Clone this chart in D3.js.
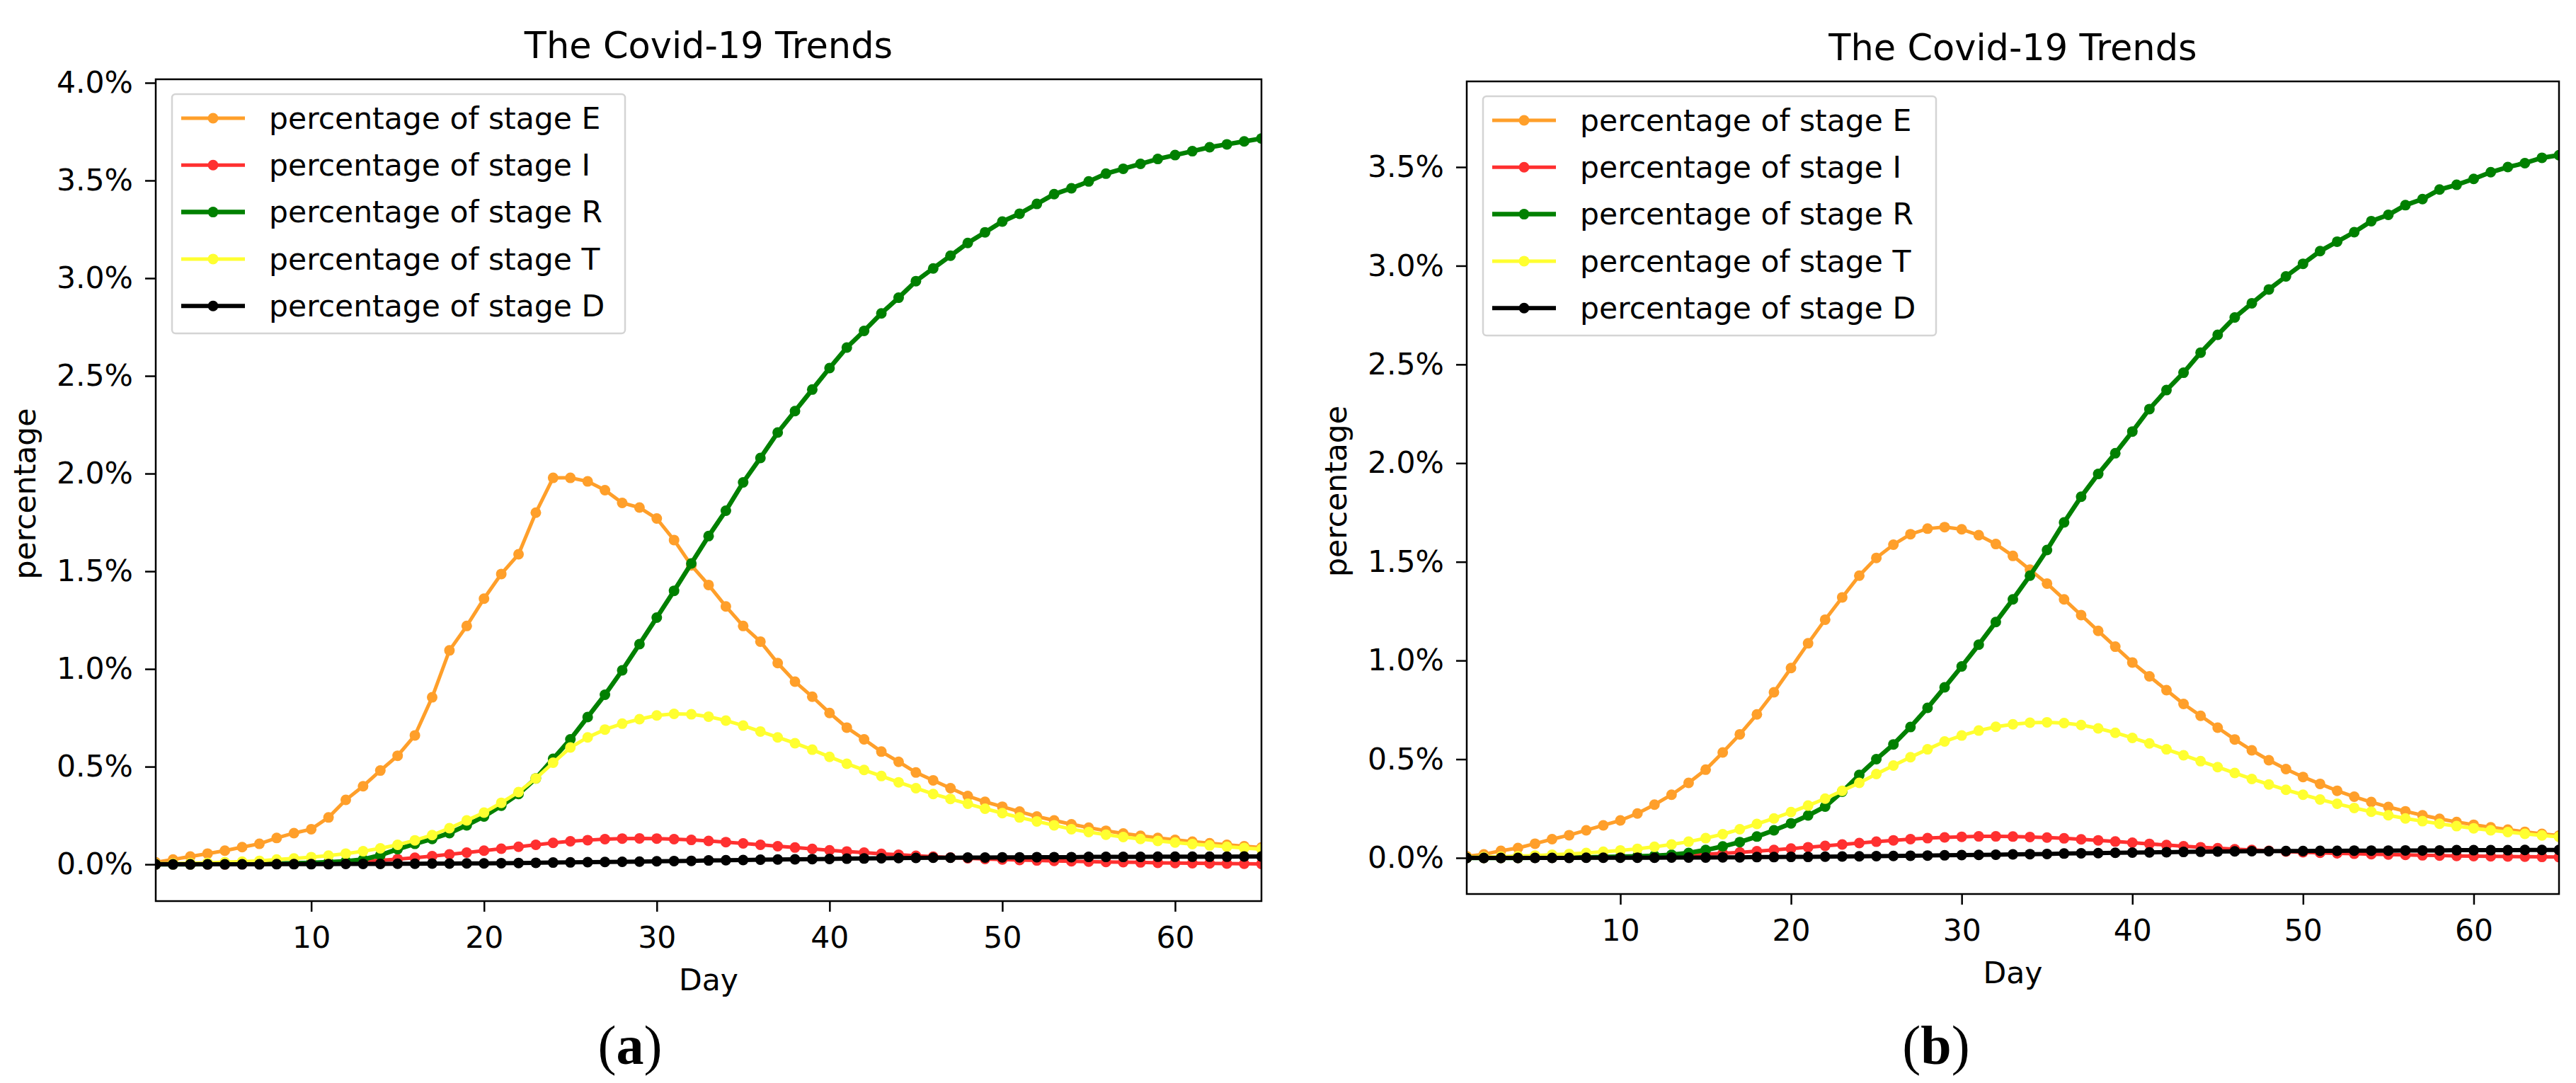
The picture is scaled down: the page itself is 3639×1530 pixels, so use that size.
<!DOCTYPE html>
<html>
<head>
<meta charset="utf-8">
<script src="https://cdn.jsdelivr.net/npm/d3@7"></script>
<style>
  body { margin: 0; background: #fff; }
  text { font-family: "DejaVu Sans", sans-serif; fill: #000; }
</style>
</head>
<body>
<svg id="fig" width="3639" height="1530"></svg>
<script>
var days = [1,2,3,4,5,6,7,8,9,10,11,12,13,14,15,16,17,18,19,20,21,22,23,24,25,26,27,28,29,30,31,32,33,
  34,35,36,37,38,39,40,41,42,43,44,45,46,47,48,49,50,51,52,53,54,55,56,57,58,59,60,61,62,63,64,65]

var stageNames = ['percentage of stage E', 'percentage of stage I', 'percentage of stage R',
  'percentage of stage T', 'percentage of stage D']
var stageColors = ['#ff9f2a', '#ff3030', '#008000', '#ffff30', '#000000']
var stageWidths = [5, 5, 6.5, 5, 6]

var xTicks = [10, 20, 30, 40, 50, 60]
var yTicksA = [0, 0.5, 1, 1.5, 2, 2.5, 3, 3.5, 4]
var yTicksB = [0, 0.5, 1, 1.5, 2, 2.5, 3, 3.5]

// panel (a), values in %
var eA = [0.01,0.025,0.04,0.055,0.07,0.088,0.105,0.135,0.16,0.18,
  0.24,0.33,0.40,0.48,0.556,0.66,0.855,1.095,1.22,1.36,
  1.486,1.587,1.80,1.978,1.978,1.96,1.915,1.85,1.826,1.77,
  1.66,1.53,1.43,1.32,1.22,1.14,1.03,0.935,0.858,0.775,
  0.70,0.64,0.577,0.525,0.47,0.43,0.39,0.35,0.32,0.295,
  0.27,0.245,0.225,0.205,0.188,0.172,0.158,0.146,0.135,0.125,
  0.116,0.108,0.10,0.093,0.086]
var iA = [0,0,0,0,0,0.001,0.002,0.003,0.004,0.006,
  0.008,0.011,0.015,0.02,0.027,0.034,0.042,0.051,0.06,0.07,
  0.08,0.09,0.10,0.11,0.118,0.124,0.129,0.132,0.133,0.132,
  0.129,0.125,0.12,0.114,0.107,0.10,0.093,0.086,0.079,0.072,
  0.066,0.06,0.054,0.049,0.044,0.039,0.035,0.031,0.028,0.025,
  0.022,0.02,0.018,0.016,0.014,0.012,0.011,0.01,0.008,0.007,
  0.006,0.005,0.004,0.003,0.002]
var rA = [0,0,0,0.001,0.001,0.002,0.003,0.004,0.006,0.008,
  0.011,0.016,0.025,0.047,0.078,0.105,0.13,0.16,0.20,0.245,
  0.30,0.36,0.44,0.54,0.64,0.754,0.868,0.993,1.127,1.263,
  1.40,1.54,1.68,1.81,1.955,2.08,2.21,2.32,2.43,2.54,
  2.645,2.73,2.82,2.90,2.985,3.05,3.115,3.18,3.235,3.29,
  3.33,3.38,3.43,3.46,3.495,3.535,3.56,3.585,3.61,3.63,
  3.65,3.67,3.685,3.70,3.715]
var tA = [0.002,0.004,0.006,0.008,0.011,0.014,0.018,0.025,0.03,0.037,
  0.045,0.055,0.067,0.082,0.10,0.123,0.15,0.185,0.225,0.265,
  0.315,0.37,0.44,0.52,0.598,0.65,0.69,0.72,0.743,0.762,
  0.77,0.768,0.756,0.736,0.71,0.68,0.65,0.62,0.587,0.55,
  0.515,0.483,0.452,0.42,0.39,0.36,0.335,0.31,0.285,0.262,
  0.24,0.22,0.20,0.18,0.165,0.152,0.14,0.13,0.12,0.112,
  0.104,0.097,0.09,0.084,0.078]
var dA = [0,0,0,0,0,0,0,0.001,0.001,0.001,
  0.001,0.002,0.002,0.002,0.003,0.003,0.004,0.004,0.005,0.005,
  0.006,0.007,0.008,0.009,0.01,0.011,0.012,0.013,0.014,0.016,
  0.017,0.018,0.02,0.021,0.022,0.024,0.025,0.026,0.027,0.028,
  0.029,0.03,0.031,0.032,0.033,0.034,0.034,0.035,0.035,0.036,
  0.036,0.037,0.037,0.037,0.038,0.038,0.038,0.038,0.039,0.039,
  0.039,0.039,0.039,0.04,0.04]

// panel (b), values in %
var eB = [0.008,0.018,0.036,0.05,0.072,0.095,0.115,0.14,0.165,0.19,
  0.225,0.27,0.32,0.38,0.447,0.534,0.626,0.727,0.839,0.962,
  1.087,1.207,1.32,1.43,1.52,1.587,1.64,1.668,1.676,1.665,
  1.635,1.59,1.53,1.46,1.39,1.31,1.23,1.15,1.07,0.99,
  0.92,0.85,0.78,0.72,0.66,0.60,0.545,0.495,0.45,0.41,
  0.375,0.34,0.31,0.283,0.258,0.236,0.216,0.198,0.182,0.168,
  0.155,0.143,0.132,0.122,0.113]
var iB = [0,0,0,0,0.001,0.001,0.002,0.003,0.004,0.005,
  0.007,0.009,0.012,0.015,0.019,0.023,0.028,0.034,0.04,0.047,
  0.054,0.061,0.068,0.075,0.082,0.089,0.095,0.10,0.104,0.107,
  0.109,0.109,0.108,0.106,0.103,0.099,0.094,0.089,0.083,0.077,
  0.071,0.065,0.059,0.054,0.049,0.044,0.04,0.036,0.032,0.029,
  0.026,0.023,0.021,0.019,0.017,0.015,0.013,0.012,0.01,0.009,
  0.008,0.007,0.006,0.005,0.004]
var rB = [0,0,0,0,0.001,0.001,0.002,0.003,0.004,0.006,
  0.008,0.011,0.016,0.025,0.04,0.058,0.08,0.108,0.14,0.175,
  0.215,0.26,0.335,0.42,0.50,0.575,0.663,0.76,0.864,0.97,
  1.08,1.195,1.31,1.43,1.56,1.70,1.83,1.945,2.05,2.16,
  2.274,2.37,2.458,2.56,2.65,2.738,2.81,2.88,2.946,3.01,
  3.074,3.122,3.17,3.226,3.258,3.307,3.338,3.386,3.41,3.44,
  3.474,3.50,3.52,3.547,3.56]
var tB = [0.002,0.004,0.006,0.009,0.012,0.016,0.02,0.025,0.031,0.038,
  0.046,0.056,0.068,0.082,0.10,0.12,0.145,0.172,0.20,0.232,
  0.265,0.30,0.34,0.38,0.425,0.468,0.51,0.55,0.59,0.62,
  0.645,0.664,0.677,0.685,0.687,0.683,0.673,0.656,0.634,0.608,
  0.58,0.55,0.52,0.49,0.46,0.43,0.40,0.372,0.345,0.32,
  0.296,0.274,0.253,0.234,0.216,0.20,0.186,0.173,0.161,0.15,
  0.14,0.131,0.122,0.114,0.107]
var dB = [0,0,0,0,0,0,0,0.001,0.001,0.001,
  0.001,0.001,0.002,0.002,0.002,0.003,0.003,0.004,0.004,0.005,
  0.005,0.006,0.007,0.008,0.009,0.01,0.011,0.012,0.013,0.014,
  0.015,0.016,0.018,0.019,0.02,0.022,0.023,0.024,0.026,0.027,
  0.028,0.029,0.03,0.031,0.032,0.033,0.034,0.034,0.035,0.035,
  0.036,0.036,0.037,0.037,0.037,0.038,0.038,0.038,0.039,0.039,
  0.039,0.039,0.04,0.04,0.04]

var svg = d3.select('#fig')

function drawPanel(p) {
  var x = d3.scaleLinear().domain([1, 65]).range([p.left, p.right])
  var y = d3.scaleLinear().domain(p.yDomain).range([p.bottom, p.top])
  var g = svg.append('g')

  g.append('clipPath').attr('id', 'clip' + p.id)
    .append('rect')
      .attr('x', p.left).attr('y', p.top)
      .attr('width', p.right - p.left).attr('height', p.bottom - p.top)

  var plot = g.append('g').attr('clip-path', 'url(#clip' + p.id + ')')
  var line = d3.line().x(function(d, i){ return x(days[i]) }).y(function(d){ return y(d) })

  p.series.forEach(function(vals, k){
    plot.append('path')
        .datum(vals)
        .attr('d', line)
        .attr('fill', 'none')
        .attr('stroke', stageColors[k])
        .attr('stroke-width', stageWidths[k])
    plot.selectAll('circle.s' + k)
        .data(vals).enter().append('circle')
        .attr('cx', function(d, i){ return x(days[i]) })
        .attr('cy', function(d){ return y(d) })
        .attr('r', 7.5)
        .attr('fill', stageColors[k])
  })

  var xAxis = g.append('g')
      .attr('transform', 'translate(0,' + p.bottom + ')')
      .call(d3.axisBottom(x).tickValues(xTicks).tickSize(15).tickPadding(21).tickFormat(d3.format('d')))
  var yAxis = g.append('g')
      .attr('transform', 'translate(' + p.left + ',0)')
      .call(d3.axisLeft(y).tickValues(p.yTicks).tickSize(15).tickPadding(17)
        .tickFormat(function(d){ return d.toFixed(1) + '%' }))
  ;[xAxis, yAxis].forEach(function(a){
    a.select('.domain').remove()
    a.selectAll('line').attr('stroke', '#000').attr('stroke-width', 2.5)
    a.selectAll('text').style('font-size', '42.5px').style('font-family', '"DejaVu Sans", sans-serif')
  })

  g.append('rect')
      .attr('x', p.left).attr('y', p.top)
      .attr('width', p.right - p.left).attr('height', p.bottom - p.top)
      .attr('fill', 'none').attr('stroke', '#000').attr('stroke-width', 2.5)

  var cx = (p.left + p.right) / 2
  g.append('text')
      .attr('x', cx).attr('y', p.top - 30)
      .attr('text-anchor', 'middle').style('font-size', '51px')
      .text('The Covid-19 Trends')
  g.append('text')
      .attr('x', cx).attr('y', p.bottom + 126)
      .attr('text-anchor', 'middle').style('font-size', '42.5px')
      .text('Day')
  g.append('text')
      .attr('transform', 'translate(' + (p.left - 170) + ',' + ((p.top + p.bottom) / 2 + 5) + ') rotate(-90)')
      .attr('text-anchor', 'middle').style('font-size', '42.5px')
      .text('percentage')

  // legend
  var lx = p.left + 23, ly = p.top + 21
  var legend = g.append('g').attr('transform', 'translate(' + lx + ',' + ly + ')')
  legend.append('rect')
      .attr('width', 640).attr('height', 338).attr('rx', 5)
      .attr('fill', '#fff').attr('stroke', '#d4d4d4').attr('stroke-width', 2.5)
  var rows = legend.selectAll('g.row').data(stageNames).enter().append('g')
      .attr('transform', function(d, i){ return 'translate(0,' + (34 + i * 66.3) + ')' })
  rows.append('line')
      .attr('x1', 13).attr('x2', 103)
      .attr('stroke', function(d, i){ return stageColors[i] })
      .attr('stroke-width', function(d, i){ return stageWidths[i] })
  rows.append('circle')
      .attr('cx', 58).attr('r', 7.5)
      .attr('fill', function(d, i){ return stageColors[i] })
  rows.append('text')
      .attr('x', 137).attr('dy', '0.35em')
      .style('font-size', '42.5px')
      .text(function(d){ return d })

  // sub-figure caption
  var cap = svg.append('text')
      .attr('x', p.capX).attr('y', 1503)
      .attr('text-anchor', 'middle')
      .style('font-family', '"Liberation Serif", serif').style('font-size', '78px')
  cap.append('tspan').text('(')
  cap.append('tspan').style('font-weight', 'bold').text(p.caption)
  cap.append('tspan').text(')')
}

drawPanel({
  id: 'a', left: 220, right: 1782, top: 112, bottom: 1273,
  yDomain: [-0.188, 4.018], yTicks: yTicksA,
  series: [eA, iA, rA, tA, dA], caption: 'a', capX: 890
})
drawPanel({
  id: 'b', left: 2072, right: 3615, top: 115, bottom: 1263,
  yDomain: [-0.183, 3.934], yTicks: yTicksB,
  series: [eB, iB, rB, tB, dB], caption: 'b', capX: 2735
})
</script>
</body>
</html>
